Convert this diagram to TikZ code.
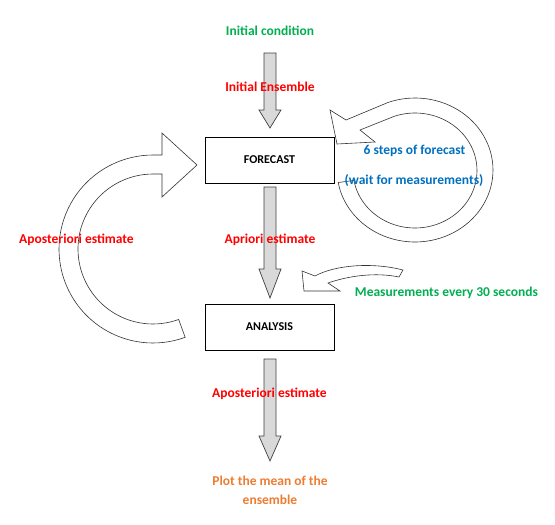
\documentclass[tikz,border=0pt]{standalone}
\usepackage{fontspec}
\setmainfont{Carlito}
\usetikzlibrary{calc}
\definecolor{tgreen}{RGB}{0,176,80}
\definecolor{tred}{RGB}{255,0,0}
\definecolor{tblue}{RGB}{0,112,192}
\definecolor{torange}{RGB}{237,125,49}
\definecolor{afill}{RGB}{217,217,217}
\newcommand\gblockarrow[3]{%
  \filldraw[garrow] (264,#1) -- (276,#1) -- (276,#2) -- (281,#2) -- (270,#3) -- (259,#2) -- (264,#2) -- cycle;}
\begin{document}
\begin{tikzpicture}[x=1pt,y=-1pt,
  lbl/.style={font=\fontsize{13.5}{16}\selectfont\bfseries, inner sep=0pt},
  boxnode/.style={draw=black, line width=0.9pt, minimum width=129pt, minimum height=46pt,
    font=\fontsize{12}{14}\selectfont\bfseries, inner sep=0pt},
  garrow/.style={fill=afill, draw=black!75, line width=0.7pt, line join=miter},
  warrow/.style={fill=white, draw=black!80, line width=0.6pt, line join=miter}]
\useasboundingbox (0,0) rectangle (555,525);
\fill[white] (0,0) rectangle (555,525);

% big left curved arrow
\filldraw[warrow] plot[domain=70:270, samples=60] ({153+94*cos(\x)},{249+94*sin(\x)})
  -- (162,155) -- (162,133) -- (197,165) -- (162,197) -- (162,174)
  -- plot[domain=270:70, samples=60] ({153+75*cos(\x)},{249+75*sin(\x)}) -- cycle;

% right loop arrow
\filldraw[warrow] plot[domain=170:-110, samples=80] ({415+78*cos(\x)},{170+72*sin(\x)})
  -- (346,120) -- (330,110) -- (337,144) -- (375,142) -- (360,130)
  -- plot[domain=-110:170, samples=80] ({415+62*cos(\x)},{170.5+57.5*sin(\x)}) -- cycle;

% measurement arrow
\filldraw[warrow] (403,270) .. controls (372,262) and (335,265) .. (315,276)
  -- (302,271) -- (304,291) -- (340,291) -- (328,283)
  .. controls (348,276) and (375,272) .. (399,277) -- cycle;

% gray block arrows
\gblockarrow{53}{110}{128}
\gblockarrow{187}{269}{298}
\gblockarrow{359}{436}{461}

% boxes
\node[boxnode] (forecast) at (269.5,160) {FORECAST};
\node[boxnode] (analysis) at (269.5,327) {ANALYSIS};

% labels
\node[lbl, text=tgreen] (init) at (270,31) {Initial condition};
\node[lbl, text=tred] (ens) at (270,87) {Initial Ensemble};
\node[lbl, text=tred] (apriori) at (270,240) {Apriori estimate};
\node[lbl, text=tred] (apostL) at (76.5,240) {Aposteriori estimate};
\node[lbl, text=tblue] (steps) at (414.5,151) {6 steps of forecast};
\node[lbl, text=tblue] (wait) at (414,181) {(wait for measurements)};
\node[lbl, text=tgreen] (meas) at (446.5,293) {Measurements every 30 seconds};
\node[lbl, text=tred] (apostB) at (269.5,394) {Aposteriori estimate};
\node[lbl, text=torange] (plot1) at (270,481) {Plot the mean of the};
\node[lbl, text=torange] (plot2) at (270,499.5) {ensemble};
\end{tikzpicture}
\end{document}
